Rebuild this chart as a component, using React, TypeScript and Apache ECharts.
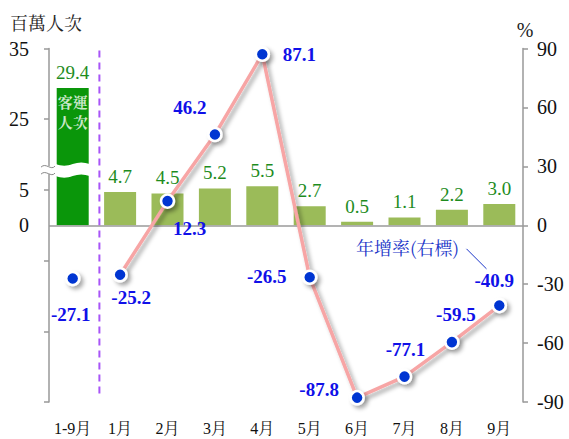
import React, { useEffect, useRef } from 'react';
import * as echarts from 'echarts';

const categories = ['1-9月', '1月', '2月', '3月', '4月', '5月', '6月', '7月', '8月', '9月'];
const passengers = [29.4, 4.7, 4.5, 5.2, 5.5, 2.7, 0.5, 1.1, 2.2, 3.0];
const growth = [-27.1, -25.2, 12.3, 46.2, 87.1, -26.5, -87.8, -77.1, -59.5, -40.9];
// left axis is broken: values above the break are shifted down by breakGap
const breakGap = 10;
const leftTickValues = [0, 5, 25, 35];
const rightMin = -90;
const rightMax = 90;
const rightInterval = 30;

const labelOffsets = [[-2, 36], [11, 23], [22, 27], [-25, -27], [37, 0], [-43, -1], [-38, -8], [1, -27], [4, -28], [-5, -25]];

const toDisplay = (v: number) => (v > 15 ? v - breakGap : v);

export default function App() {
  const ref = useRef<HTMLDivElement>(null);
  useEffect(() => {
    document.body.style.margin = '0';
    const chart = echarts.init(ref.current!, null, { renderer: 'svg' });
    const serif = "'Times New Roman', 'Liberation Serif', 'Noto Serif CJK TC', 'Noto Sans CJK TC', serif";
    const cjk = "'Noto Serif CJK TC', 'Noto Sans CJK TC', serif";
    const grid = { left: 49, right: 46, top: 48.5, bottom: 37 };
    const blueLabel = { color: '#1010e8', fontFamily: serif, fontWeight: 'bold', fontSize: 19 };
    const shadow = { shadowColor: 'rgba(0,0,0,0.35)', shadowBlur: 4, shadowOffsetX: 3, shadowOffsetY: 3 };

    const lineData = growth.map((v, i) =>
      i === 0 ? null : { value: v, label: { offset: labelOffsets[i] } }
    );
    const firstData = growth.map((v, i) =>
      i === 0 ? { value: v, label: { offset: labelOffsets[i] } } : null
    );

    const option: any = {
      animation: false,
      grid: { ...grid, containLabel: false },
      xAxis: {
        type: 'category',
        data: categories,
        axisLine: { show: false, onZero: false },
        axisTick: { show: false },
        axisLabel: { interval: 0, color: '#111', fontFamily: serif, fontSize: 16, margin: 18 },
      },
      yAxis: [
        {
          type: 'value',
          min: -25,
          max: 25,
          interval: 5,
          axisLine: { show: true, lineStyle: { color: '#999', width: 1.5 } },
          axisTick: { show: true, length: 5, customValues: [-25, -15, -5, 5, 15, 25], lineStyle: { color: '#999', width: 1.5 } },
          axisLabel: {
            customValues: leftTickValues.map(toDisplay),
            formatter: (v: number) => {
              const idx = leftTickValues.map(toDisplay).indexOf(v);
              return idx >= 0 ? String(leftTickValues[idx]) : '';
            },
            color: '#111', fontFamily: serif, fontSize: 20, margin: 20,
          },
          splitLine: { show: false },
        },
        {
          type: 'value',
          position: 'right',
          min: rightMin,
          max: rightMax,
          interval: rightInterval,
          axisLine: { show: true, lineStyle: { color: '#999', width: 1.5 } },
          axisTick: { show: true, length: 5, lineStyle: { color: '#999', width: 1.5 } },
          axisLabel: { color: '#111', fontFamily: serif, fontSize: 20, margin: 14 },
          splitLine: { show: false },
        },
      ],
      series: [
        {
          type: 'bar',
          yAxisIndex: 0,
          barWidth: 32,
          data: passengers.map((v, i) => ({
            value: toDisplay(v),
            itemStyle: { color: i === 0 ? '#0a960a' : '#9bbb59' },
          })),
          label: {
            show: true,
            position: 'top',
            distance: 6,
            color: '#1e8c1e',
            fontFamily: serif,
            fontSize: 19,
            formatter: (p: any) => passengers[p.dataIndex].toFixed(1),
          },
          markLine: {
            silent: true,
            symbol: 'none',
            label: { show: false },
            lineStyle: { color: '#9a9a9a', width: 1.5, type: 'solid' },
            data: [{ yAxis: 0 }],
          },
          z: 2,
        },
        {
          type: 'scatter',
          yAxisIndex: 0,
          symbolSize: 0,
          silent: true,
          data: [[categories[0], 16.1]],
          label: {
            show: true,
            position: 'inside',
            formatter: '客運\n人次',
            color: '#fff',
            fontWeight: 'bold',
            fontSize: 15,
            lineHeight: 20,
            fontFamily: cjk,
          },
          z: 3,
        },
        {
          type: 'line',
          yAxisIndex: 1,
          data: lineData,
          connectNulls: false,
          showAllSymbol: true,
          symbol: 'circle',
          symbolSize: 13,
          lineStyle: { color: '#f7a5a5', width: 3.5, ...shadow },
          itemStyle: { color: '#0036d2', borderColor: '#fff', borderWidth: 2.5, ...shadow },
          label: { show: true, position: 'inside', ...blueLabel, formatter: (p: any) => p.value.toFixed(1) },
          z: 5,
        },
        {
          type: 'line',
          yAxisIndex: 1,
          data: firstData,
          showAllSymbol: true,
          symbol: 'circle',
          symbolSize: 13,
          lineStyle: { width: 0 },
          itemStyle: { color: '#0036d2', borderColor: '#fff', borderWidth: 2.5, ...shadow },
          label: { show: true, position: 'inside', ...blueLabel, formatter: (p: any) => p.value.toFixed(1) },
          z: 5,
        },
      ],
    };
    chart.setOption(option);

    const p0 = chart.convertToPixel({ xAxisIndex: 0, yAxisIndex: 0 }, [categories[0], 0]) as number[];
    const p1 = chart.convertToPixel({ xAxisIndex: 0, yAxisIndex: 0 }, [categories[1], 0]) as number[];
    const pb = chart.convertToPixel({ xAxisIndex: 0, yAxisIndex: 0 }, [categories[0], 7.8]) as number[];
    const pTop = chart.convertToPixel({ xAxisIndex: 0, yAxisIndex: 0 }, [categories[0], 25]) as number[];
    const pBot = chart.convertToPixel({ xAxisIndex: 0, yAxisIndex: 0 }, [categories[0], -25]) as number[];
    const pAnn = chart.convertToPixel({ xAxisIndex: 0, yAxisIndex: 1 }, [categories[7], -11]) as number[];
    const axisX = grid.left;
    const sepX = (p0[0] + p1[0]) / 2 + 3;

    const wavePts: number[][] = [];
    const n = 16;
    for (let t = 0; t <= n; t++) {
      const x = p0[0] - 17 + (34 * t) / n;
      wavePts.push([x, pb[1] - 6 + 1.6 * Math.sin((2 * Math.PI * t) / n)]);
    }
    for (let t = n; t >= 0; t--) {
      const x = p0[0] - 17 + (34 * t) / n;
      wavePts.push([x, pb[1] + 6 + 1.6 * Math.sin((2 * Math.PI * t) / n)]);
    }

    chart.setOption({
      graphic: [
        { type: 'polygon', shape: { points: wavePts }, style: { fill: '#fff' }, z: 10 },
        { type: 'rect', shape: { x: axisX - 3, y: pb[1] - 4, width: 6, height: 8 }, style: { fill: '#fff' }, z: 10 },
        {
          type: 'bezierCurve',
          shape: { x1: axisX - 8, y1: pb[1] - 3, cpx1: axisX - 3, cpy1: pb[1] - 8, cpx2: axisX + 2, cpy2: pb[1] + 1, x2: axisX + 6, y2: pb[1] - 4 },
          style: { stroke: '#888', lineWidth: 1, fill: 'none' }, z: 11,
        },
        {
          type: 'bezierCurve',
          shape: { x1: axisX - 8, y1: pb[1] + 4, cpx1: axisX - 3, cpy1: pb[1] - 1, cpx2: axisX + 2, cpy2: pb[1] + 8, x2: axisX + 6, y2: pb[1] + 3 },
          style: { stroke: '#888', lineWidth: 1, fill: 'none' }, z: 11,
        },
        {
          type: 'line',
          shape: { x1: sepX, y1: pTop[1] + 2, x2: sepX, y2: pBot[1] - 7 },
          style: { stroke: '#a855f7', lineWidth: 2, lineDash: [7, 5] }, z: 4,
        },
        {
          type: 'text', x: pAnn[0] + 3, y: pAnn[1],
          style: { text: '年增率(右標)', fill: '#1a35c8', fontSize: 18, fontFamily: cjk, align: 'center', verticalAlign: 'middle' },
          z: 12,
        },
        {
          type: 'line',
          shape: { x1: pAnn[0] + 62, y1: pAnn[1] + 2, x2: pAnn[0] + 82, y2: pAnn[1] + 22 },
          style: { stroke: '#1a35c8', lineWidth: 1 }, z: 12,
        },
        {
          type: 'text', x: 46, y: 22,
          style: { text: '百萬人次', fill: '#222', fontSize: 18, fontFamily: cjk, align: 'center', verticalAlign: 'middle' },
        },
        {
          type: 'text', x: 525, y: 30,
          style: { text: '%', fill: '#222', fontSize: 20, fontFamily: serif, align: 'center', verticalAlign: 'middle' },
        },
      ],
    });

    return () => chart.dispose();
  }, []);
  return <div ref={ref} style={{ width: 569, height: 439 }} />;
}
